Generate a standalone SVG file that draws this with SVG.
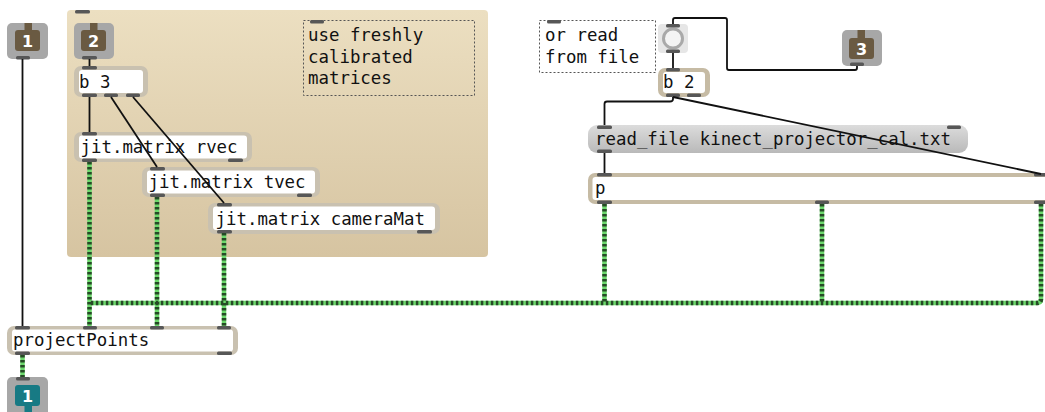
<svg xmlns="http://www.w3.org/2000/svg" width="1045" height="412" viewBox="0 0 1045 412">
<defs>
<linearGradient id="panelGrad" x1="0" y1="0" x2="0" y2="1">
<stop offset="0" stop-color="#ecdfc1"/>
<stop offset="1" stop-color="#d6c4a1"/>
</linearGradient>
<linearGradient id="msgGrad" x1="0" y1="0" x2="0" y2="1">
<stop offset="0" stop-color="#dcdcdc"/>
<stop offset="1" stop-color="#b9b9b9"/>
</linearGradient>
</defs>
<style>
.txt{font-family:"DejaVu Sans Mono","Liberation Mono",monospace;font-size:17.4px;fill:#111}
.num{font-family:"DejaVu Sans","Liberation Sans",sans-serif;font-size:16px;font-weight:bold;fill:#fff;text-anchor:middle}
.port{fill:#575757}
.inframe{fill:#a7a7a7}
.brown{fill:#6a5a42}
.teal{fill:#177a84}
.objouter{fill:#c9c1b0}
.objinner{fill:#ffffff}
.cmt{fill:none;stroke:#555;stroke-width:1;stroke-dasharray:2,2}
.cord{fill:none;stroke:#111;stroke-width:1.8}
.mbase{fill:none;stroke:#6cd86c;stroke-width:4.5}
.mdash{fill:none;stroke:#264a26;stroke-width:4.5;stroke-dasharray:2.5,2.5}
</style>
<rect width="1045" height="412" fill="#ffffff"/>
<g id="panel">
<rect x="67" y="10" width="421" height="247" rx="4" fill="url(#panelGrad)"/>
<rect class="port" x="75" y="10" width="15" height="3.5" rx="1.5"/>
</g>
<g id="comment-use">
<rect class="cmt" x="303.5" y="20.5" width="171" height="75"/>
<rect class="port" x="310" y="20" width="14" height="3.5" rx="1.5"/>
<text class="txt" x="308" y="41">use freshly</text>
<text class="txt" x="308" y="62.5">calibrated</text>
<text class="txt" x="308" y="84">matrices</text>
</g>
<g id="comment-read">
<rect class="cmt" x="539.5" y="20.5" width="116" height="52"/>
<rect class="port" x="547" y="20" width="14" height="3.5" rx="1.5"/>
<text class="txt" x="545" y="41">or read</text>
<text class="txt" x="545" y="62.5">from file</text>
</g>
<g id="inlet1">
<rect class="inframe" x="7" y="23" width="41" height="36" rx="5"/>
<rect class="brown" x="15" y="30" width="25" height="21" rx="3"/>
<rect class="brown" x="24.5" y="23" width="7.5" height="8"/>
<text class="num" x="27.5" y="47">1</text>
<rect class="port" x="16" y="56" width="14" height="3.5" rx="1.5"/>
</g>
<g id="inlet2">
<rect class="inframe" x="74" y="23" width="40" height="36" rx="5"/>
<rect class="brown" x="81" y="30" width="25" height="21" rx="3"/>
<rect class="brown" x="90" y="23" width="7.5" height="8"/>
<text class="num" x="93.5" y="47">2</text>
<rect class="port" x="82" y="56" width="15" height="3.5" rx="1.5"/>
</g>
<g id="inlet3">
<rect class="inframe" x="842" y="30" width="40" height="36" rx="5"/>
<rect class="brown" x="849" y="38" width="25" height="21" rx="3"/>
<rect class="brown" x="857.5" y="30" width="7.5" height="9"/>
<text class="num" x="861.5" y="55">3</text>
<rect class="port" x="850" y="62.5" width="14" height="3.5" rx="1.5"/>
</g>
<g id="b3">
<rect class="objouter" x="74" y="66" width="74" height="31" rx="7"/>
<rect class="objinner" x="79" y="70" width="64" height="23" rx="3"/>
<text class="txt" x="79" y="87.5">b 3</text>
<rect class="port" x="82" y="66" width="15" height="3.5" rx="1.5"/>
<rect class="port" x="82" y="93.5" width="15" height="3.5" rx="1.5"/>
<rect class="port" x="104" y="93.5" width="14" height="3.5" rx="1.5"/>
<rect class="port" x="126" y="93.5" width="14" height="3.5" rx="1.5"/>
</g>
<g id="rvec">
<rect class="objouter" x="74" y="132" width="178" height="30" rx="7"/>
<rect class="objinner" x="79" y="135.5" width="168" height="23" rx="3"/>
<text class="txt" x="80.5" y="153">jit.matrix rvec</text>
<rect class="port" x="82" y="132" width="15" height="3.5" rx="1.5"/>
<rect class="port" x="82" y="158.5" width="15" height="3.5" rx="1.5"/>
<rect class="port" x="228" y="158.5" width="15" height="3.5" rx="1.5"/>
</g>
<g id="tvec">
<rect class="objouter" x="142" y="167" width="178" height="30" rx="7"/>
<rect class="objinner" x="147" y="170.5" width="168" height="23" rx="3"/>
<text class="txt" x="148.5" y="188">jit.matrix tvec</text>
<rect class="port" x="150" y="167" width="15" height="3.5" rx="1.5"/>
<rect class="port" x="150" y="193.5" width="15" height="3.5" rx="1.5"/>
<rect class="port" x="297" y="193.5" width="15" height="3.5" rx="1.5"/>
</g>
<g id="cameraMat">
<rect class="objouter" x="208" y="203" width="232" height="31" rx="7"/>
<rect class="objinner" x="213" y="206.5" width="222" height="23.5" rx="3"/>
<text class="txt" x="215.5" y="224.5">jit.matrix cameraMat</text>
<rect class="port" x="217" y="203" width="15" height="3.5" rx="1.5"/>
<rect class="port" x="217" y="230" width="15" height="3.5" rx="1.5"/>
<rect class="port" x="417" y="230" width="15" height="3.5" rx="1.5"/>
</g>
<g id="projectPoints">
<rect class="objouter" x="7" y="326" width="231" height="29" rx="7"/>
<rect class="objinner" x="12" y="329.5" width="221" height="22" rx="3"/>
<text class="txt" x="13" y="346">projectPoints</text>
<rect class="port" x="15" y="326" width="15" height="3.5" rx="1.5"/>
<rect class="port" x="83" y="326" width="14" height="3.5" rx="1.5"/>
<rect class="port" x="150" y="326" width="14" height="3.5" rx="1.5"/>
<rect class="port" x="217" y="326" width="14" height="3.5" rx="1.5"/>
<rect class="port" x="15" y="351.5" width="15" height="3.5" rx="1.5"/>
<rect class="port" x="217" y="351.5" width="15" height="3.5" rx="1.5"/>
</g>
<g id="outlet1">
<rect class="inframe" x="7" y="377" width="41" height="44" rx="5"/>
<rect class="teal" x="15" y="385" width="25" height="21" rx="3"/>
<rect class="teal" x="24.5" y="404" width="7.5" height="10"/>
<text class="num" x="27.5" y="402">1</text>
<rect class="port" x="16" y="377" width="14" height="3.5" rx="1.5"/>
</g>
<g id="button">
<rect x="658" y="24" width="30" height="29" rx="4" fill="#e6e6e6"/>
<circle cx="673" cy="38.5" r="9.5" fill="#f4f4f4" stroke="#a9a9a9" stroke-width="3"/>
<rect class="port" x="666" y="24" width="14" height="3.5" rx="1.5"/>
<rect class="port" x="666" y="49.5" width="14" height="3.5" rx="1.5"/>
</g>
<g id="b2">
<rect x="658" y="68" width="52" height="29" rx="7" fill="#c6bba4"/>
<rect class="objinner" x="663" y="72" width="42" height="21" rx="3"/>
<text class="txt" x="663" y="88">b 2</text>
<rect class="port" x="666" y="68" width="14" height="3.5" rx="1.5"/>
<rect class="port" x="666" y="93.5" width="14" height="3.5" rx="1.5"/>
<rect class="port" x="687" y="93.5" width="14" height="3.5" rx="1.5"/>
</g>
<g id="readfile">
<rect x="588" y="125" width="380" height="28" rx="9" fill="url(#msgGrad)"/>
<text class="txt" x="595" y="145">read_file kinect_projector_cal.txt</text>
<rect class="port" x="597" y="125.5" width="15" height="3.5" rx="1.5"/>
<rect class="port" x="947" y="125.5" width="14" height="3.5" rx="1.5"/>
<rect class="port" x="597" y="149.5" width="15" height="3.5" rx="1.5"/>
</g>
<g id="p">
<rect x="588" y="173" width="470" height="31" rx="7" fill="#c6bba4"/>
<rect class="objinner" x="592.5" y="177" width="461" height="23" rx="3"/>
<text class="txt" x="595" y="194">p</text>
<rect class="port" x="597" y="173" width="15" height="3.5" rx="1.5"/>
<rect class="port" x="1034" y="173" width="14" height="3.5" rx="1.5"/>
<rect class="port" x="597" y="200.5" width="15" height="3.5" rx="1.5"/>
<rect class="port" x="815" y="200.5" width="14" height="3.5" rx="1.5"/>
<rect class="port" x="1034" y="200.5" width="14" height="3.5" rx="1.5"/>
</g>
<g id="connectors">
<path class="cord" d="M22.5 59 V326"/>
<path class="cord" d="M89.5 59 V66"/>
<path class="cord" d="M89.5 97 V132"/>
<path class="cord" d="M111 97 L157 167"/>
<path class="cord" d="M133 97 L224 203"/>
<path class="cord" d="M857 66 V68 Q857 70 855 70 H729 Q727 70 727 68 V20 Q727 18 725 18 H675 Q673 18 673 20 V24"/>
<path class="cord" d="M673 53 V68"/>
<path class="cord" d="M673 97 V99 Q673 101.5 670 101.5 H607 Q604.5 101.5 604.5 104 V125"/>
<path class="cord" d="M673 97 L1041 174"/>
<path class="cord" d="M604.5 153 V173"/>
<g id="matrix-cords">
<path class="mbase" d="M89.5 162 V326 M157 197 V326 M224 233 V326 M604.5 204 V303 M822 204 V303 M1041 204 V299 Q1041 303 1037 303 H89.5 M22.5 355 V377"/>
<path class="mdash" d="M89.5 162 V326 M157 197 V326 M224 233 V326 M604.5 204 V303 M822 204 V303 M1041 204 V299 Q1041 303 1037 303 H89.5 M22.5 355 V377"/>
</g>
</g>
</svg>
